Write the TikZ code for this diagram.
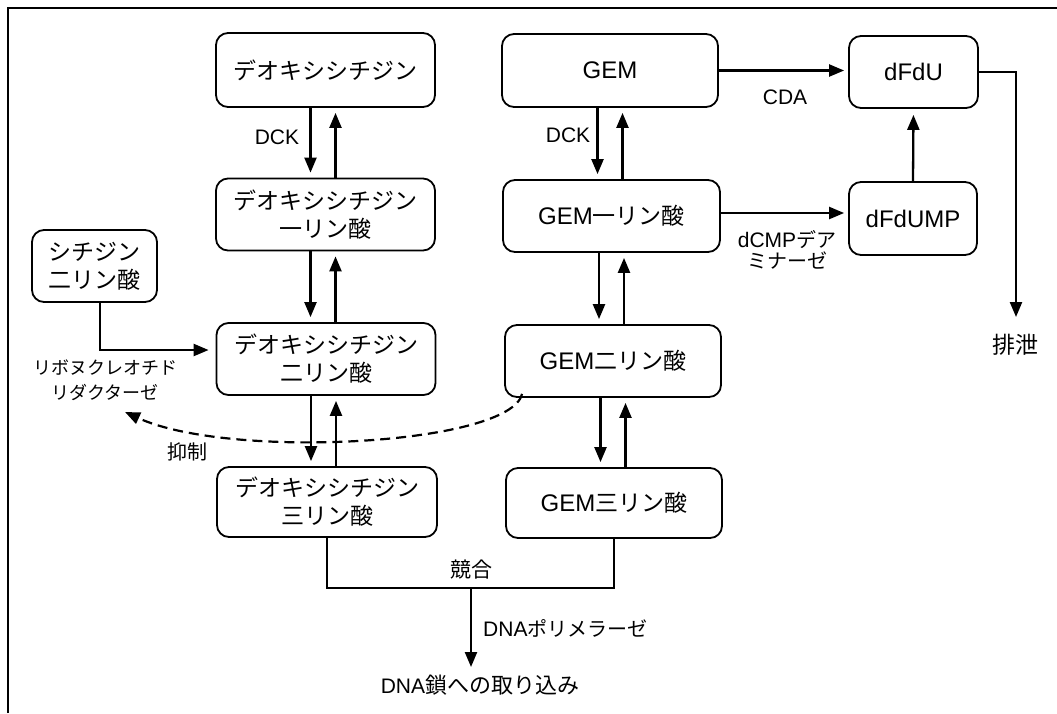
\documentclass[tikz,border=0pt]{standalone}
\usepackage{fontspec}
\setmainfont{Liberation Sans}
\newfontfamily\jp{Noto Sans CJK JP}
\usetikzlibrary{arrows.meta}
\newcommand\jpb{\jp\fontsize{23}{28}\selectfont}
\newcommand\jpl{\jp\fontsize{20}{21}\selectfont}
\begin{document}
\begin{tikzpicture}[x=1pt,y=-1pt,
  box/.style={draw, line width=1.8pt, rounded corners=12pt, inner sep=0pt, align=center,
              font=\fontsize{24}{28}\selectfont},
  jbox/.style={box, font=\jpb},
  arr/.style={line width=2.3pt, -{Triangle[length=15pt,width=12pt]}, shorten >=5pt},
  dasharr/.style={line width=2.2pt, dash pattern=on 10pt off 6pt, -{Triangle[length=15pt,width=12pt]}},
  lbl/.style={inner sep=0pt, font=\fontsize{21}{21}\selectfont},
]
\useasboundingbox (0,0) rectangle (1057,713);
\fill[white] (0,0) rectangle (1057,713);
% frame (top and left edges)
\draw[line width=2.2pt] (8,713) -- (8,8) -- (1057,8);

% left column
\node[jbox, minimum width=219pt, minimum height=74pt] (d0) at (325.5,70) {デオキシシチジン};
\node[jbox, minimum width=219pt, minimum height=72pt] (d1) at (325.5,214.5) {デオキシシチジン\\一リン酸};
\node[jbox, minimum width=219pt, minimum height=72pt] (d2) at (326,359) {デオキシシチジン\\二リン酸};
\node[jbox, minimum width=220pt, minimum height=70pt] (d3) at (327,502) {デオキシシチジン\\三リン酸};
% GEM column
\node[box, minimum width=216pt, minimum height=73pt] (g0) at (610,70.5) {GEM};
\node[box, minimum width=217pt, minimum height=72pt] (g1) at (611.5,216) {GEM{\jpb 一リン酸}};
\node[box, minimum width=216pt, minimum height=72pt] (g2) at (613,361) {GEM{\jpb 二リン酸}};
\node[box, minimum width=216pt, minimum height=70pt] (g3) at (614,503) {GEM{\jpb 三リン酸}};
% right column
\node[box, minimum width=129pt, minimum height=72pt] (u0) at (913.5,72) {dFdU};
\node[box, minimum width=128pt, minimum height=73pt] (u1) at (913,218.5) {dFdUMP};
% cytidine diphosphate
\node[jbox, minimum width=125pt, minimum height=72pt] (c) at (94.5,266) {シチジン\\二リン酸};

% labels
\node[lbl] (dck1) at (277,137) {DCK};
\node[lbl] (dck2) at (568,135) {DCK};
\node[lbl] (cda) at (785,97) {CDA};
\node[lbl, align=center] (dcmp) at (787,250) {dCMP{\jpl デア}\\{\jpl ミナーゼ}};
\node[lbl, align=center, font=\jp\fontsize{18}{25}\selectfont] (rr) at (105,380) {リボヌクレオチド\\リダクターゼ};
\node[lbl, font=\jp\fontsize{20}{24}\selectfont] (yoku) at (187,452) {抑制};
\node[lbl, font=\jp\fontsize{21}{24}\selectfont] (kyo) at (471,570) {競合};
\node[lbl, anchor=west] (pol) at (483,628) {DNA{\jpl ポリメラーゼ}};
\node[lbl] (dna) at (480,685) {DNA{\jp\fontsize{22}{24}\selectfont 鎖への取り込み}};
\node[lbl, font=\jp\fontsize{23}{24}\selectfont] (hai) at (1015,345) {排泄};

% vertical arrow pairs
\foreach \a/\b in {d0/d1,d1/d2,d2/d3}{
  \draw[arr] ([xshift=-15pt]\a.south) -- ([xshift=-15pt]\a.south |- \b.north);
  \draw[arr] ([xshift=10pt]\a.south |- \b.north) -- ([xshift=10pt]\a.south);
}
\foreach \a/\b in {g0/g1,g1/g2,g2/g3}{
  \draw[arr] ([xshift=-12.5pt]\a.south) -- ([xshift=-12.5pt]\a.south |- \b.north);
  \draw[arr] ([xshift=12.5pt]\a.south |- \b.north) -- ([xshift=12.5pt]\a.south);
}
% horizontal arrows
\draw[arr, shorten >=4pt] (g0.east) -- (g0.east -| u0.west);
\draw[arr, shorten >=4pt] ([yshift=3pt]g1.east) -- ([yshift=3pt]g1.east -| u1.west);
\draw[arr, shorten >=6pt] (u1.north) -- (u0.south);

% excretion
\coordinate (haitip) at (1016,317);
\draw[arr, shorten >=0pt] (u0.east) -| (haitip);

% cytidine diphosphate -> deoxycytidine diphosphate
\draw[arr, shorten >=7pt] ([xshift=5.5pt]c.south) |- ([yshift=9pt]d2.west);

% competition
\coordinate (j) at (471,588);
\coordinate (dnatip) at (471,667);
\draw[line width=2.3pt] (d3.south) |- (j) -| (g3.south);
\draw[arr, shorten >=0pt] (j) -- (dnatip);

% inhibition (dashed)
\coordinate (inh) at (125,412);
\draw[dasharr] ([xshift=18pt,yshift=4pt]g2.south west) .. controls (510,445) and (230,460) .. (inh);
\end{tikzpicture}
\end{document}
